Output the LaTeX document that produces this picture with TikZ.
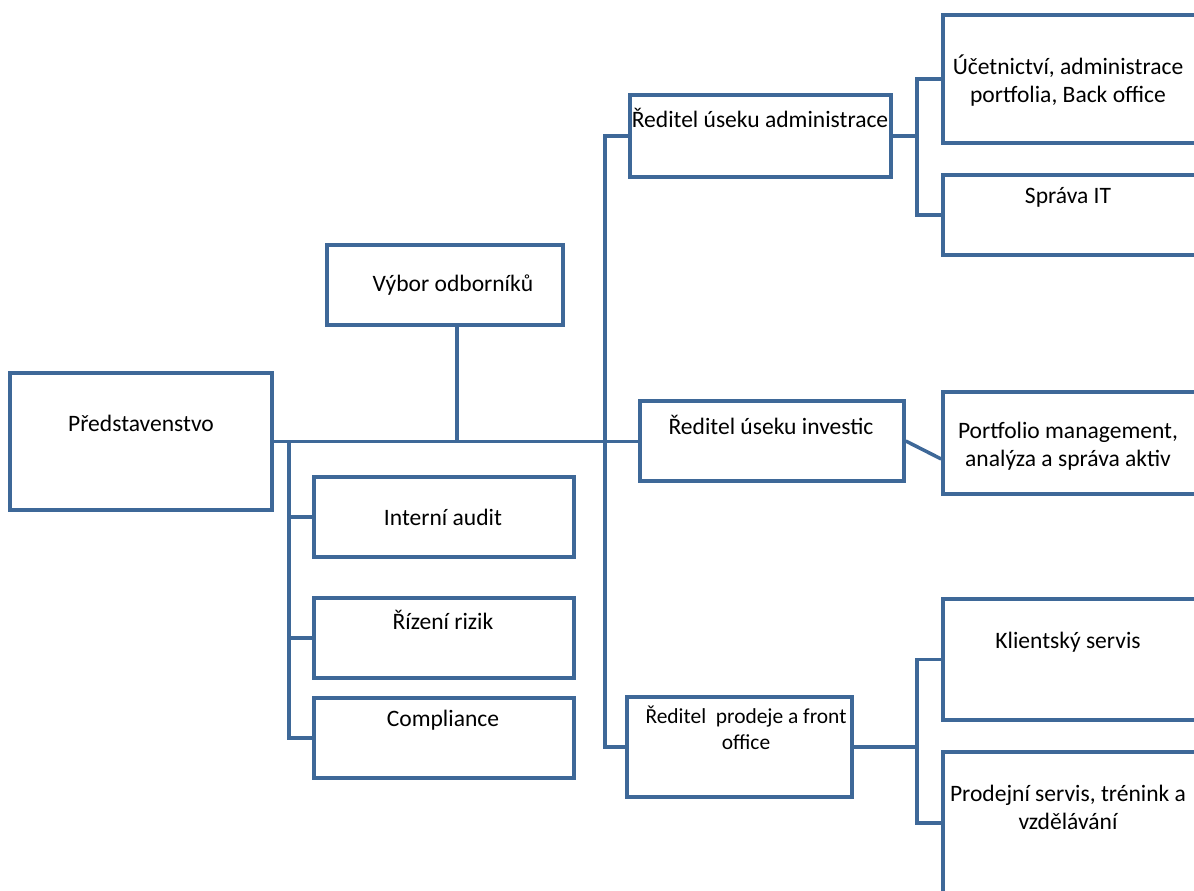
\documentclass[tikz,border=0pt]{standalone}
\usepackage{fontspec}
\setmainfont{Carlito}
\usetikzlibrary{fit}
\definecolor{orgblue}{RGB}{62,104,152}
\tikzset{
  orgbox/.style={draw=orgblue, line width=2pt, inner sep=0pt},
  orgtext/.style={align=center, font=\fontsize{13.4}{16}\selectfont, inner sep=0pt},
  orgline/.style={draw=orgblue, line width=2pt},
}
\begin{document}
\begin{tikzpicture}[x=0.02cm, y=-0.02cm]
  \useasboundingbox (0,0) rectangle (1194,890);
  % Boxes
  \node[orgbox, fit={(10,373) (272,510)}] (Predstavenstvo) {};
  \node[orgbox, fit={(327,245) (563,325)}] (Vybor) {};
  \node[orgbox, fit={(314,477) (574,557)}] (Audit) {};
  \node[orgbox, fit={(314,598) (574,678)}] (Rizika) {};
  \node[orgbox, fit={(314,698) (574,778)}] (Compliance) {};
  \node[orgbox, fit={(630,95) (891,177)}] (ReditelAdmin) {};
  \node[orgbox, fit={(640,401) (904,481)}] (ReditelInvest) {};
  \node[orgbox, fit={(627,697) (852,797)}] (ReditelProdej) {};
  \node[orgbox, fit={(943,15) (1200,143)}] (Ucetnictvi) {};
  \node[orgbox, fit={(943,175) (1200,255)}] (SpravaIT) {};
  \node[orgbox, fit={(943,392) (1200,494)}] (Portfolio) {};
  \node[orgbox, fit={(943,599) (1200,720)}] (Klient) {};
  \node[orgbox, fit={(943,752) (1200,894)}] (ProdejServis) {};

  % Texts
  \node[orgtext] (PredstavenstvoText) at (141,423) {Představenstvo};
  \node[orgtext] (VyborText) at (453,285) {Výbor odborníků};
  \node[orgtext] (AuditText) at (443,517) {Interní audit};
  \node[orgtext] (RizikaText) at (443,620) {Řízení rizik};
  \node[orgtext] (ComplianceText) at (443,720) {Compliance};
  \node[orgtext] (ReditelAdminText) at (760,118) {Ředitel úseku administrace};
  \node[orgtext] (ReditelInvestText) at (771,425) {Ředitel úseku investic};
  \node[orgtext, font=\fontsize{12.2}{15}\selectfont] (ReditelProdejText) at (746,728) {Ředitel\ \ prodeje a front\\office};
  \node[orgtext] (UcetnictviText) at (1068,81) {Účetnictví, administrace\\portfolia, Back office};
  \node[orgtext] (SpravaITText) at (1068,197) {Správa IT};
  \node[orgtext] (PortfolioText) at (1068,446) {Portfolio management,\\analýza a správa aktiv};
  \node[orgtext] (KlientText) at (1068,642) {Klientský servis};
  \node[orgtext] (ProdejServisText) at (1068,807) {Prodejní servis, trénink a\\vzdělávání};

  % Bus points
  \coordinate (LeftBus) at (289,441);
  \coordinate (RightBus) at (605,441);
  \coordinate (AdminBus) at (917,136);
  \coordinate (ProdejBus) at (917,747);

  % Lines
  \draw[orgline] (Predstavenstvo.east) -- (Predstavenstvo.east -| ReditelInvest.west);
  \draw[orgline] ([xshift=0.24cm]Vybor.south) -- ([xshift=0.24cm]Vybor.south |- Predstavenstvo.east);
  \draw[orgline] (LeftBus) |- (Compliance.west);
  \draw[orgline] (LeftBus |- Audit.west) -- (Audit.west);
  \draw[orgline] (LeftBus |- Rizika.west) -- (Rizika.west);
  \draw[orgline] (ReditelAdmin.west) -| (RightBus) |- (ReditelProdej.west);
  \draw[orgline] (ReditelAdmin.east) -- (AdminBus);
  \draw[orgline] (Ucetnictvi.west) -| (AdminBus) |- (SpravaIT.west);
  \draw[orgline] (ReditelInvest.east) -- ([yshift=-0.32cm]Portfolio.west);
  \draw[orgline] (ReditelProdej.east) -- (ProdejBus);
  \draw[orgline] (Klient.west) -| (ProdejBus) |- (ProdejServis.west);
\end{tikzpicture}
\end{document}
